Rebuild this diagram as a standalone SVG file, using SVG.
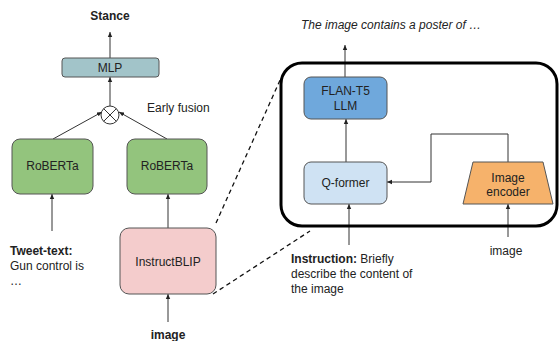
<svg xmlns="http://www.w3.org/2000/svg" width="559" height="341" viewBox="0 0 559 341">
<defs>
<marker id="ah" markerWidth="6" markerHeight="6" refX="5" refY="3" orient="auto" markerUnits="userSpaceOnUse">
<path d="M0,0.8 L5,3 L0,5.2 z" fill="#222"/>
</marker>
<style>
text{font-family:"Liberation Sans",Arial,sans-serif;font-size:12px;fill:#222}
.b{font-weight:bold}
.c{text-anchor:middle}
.box{stroke:#555;stroke-width:1}
.ln{fill:none;stroke:#333;stroke-width:1}
.ar{fill:none;stroke:#333;stroke-width:1;marker-end:url(#ah)}
.dash{fill:none;stroke:#111;stroke-width:1.3;stroke-dasharray:4.5,3.5}
</style>
</defs>
<rect width="559" height="341" fill="#fff"/>

<g id="connectors">
<line class="ar" x1="110" y1="58" x2="110" y2="32"/>
<line class="ar" x1="110" y1="106" x2="110" y2="77"/>
<line class="ar" x1="53" y1="139" x2="102" y2="112"/>
<line class="ar" x1="167" y1="139" x2="119" y2="112"/>
<line class="ar" x1="52" y1="231" x2="52" y2="194"/>
<line class="ar" x1="168" y1="228" x2="168" y2="194"/>
<line class="ar" x1="168" y1="322" x2="168" y2="294"/>
<line class="dash" x1="216" y1="223" x2="281" y2="78"/>
<line class="dash" x1="213" y1="294" x2="310" y2="231"/>
<line class="ar" x1="345" y1="77" x2="345" y2="45"/>
<line class="ar" x1="346" y1="162" x2="346" y2="119"/>
<line class="ar" x1="349" y1="245" x2="349" y2="204"/>
<path class="ar" d="M508,162 V134 H431 V182 H387"/>
<line class="ar" x1="508" y1="237" x2="508" y2="204"/>
</g>

<g id="stance"><text class="b c" x="110" y="20">Stance</text></g>
<g id="mlp">
<rect class="box" x="62" y="58" width="97" height="19" rx="3" fill="#a2c4c9"/>
<text class="c" x="110" y="72">MLP</text>
</g>
<g id="fusion">
<circle cx="110" cy="115" r="9" fill="#fff" stroke="#333" stroke-width="1"/>
<path d="M103.6,108.6 L116.4,121.4 M116.4,108.6 L103.6,121.4" stroke="#333" stroke-width="1"/>
<text x="147" y="112">Early fusion</text>
</g>
<g id="roberta1">
<rect class="box" x="12" y="139" width="81" height="55" rx="8" fill="#93c47d"/>
<text class="c" x="52.5" y="170">RoBERTa</text>
</g>
<g id="roberta2">
<rect class="box" x="127" y="139" width="80" height="55" rx="8" fill="#93c47d"/>
<text class="c" x="167" y="170">RoBERTa</text>
</g>
<g id="tweet">
<text x="10" y="255"><tspan class="b">Tweet-text:</tspan></text>
<text x="10" y="270">Gun control is</text>
<text x="10" y="285">…</text>
</g>
<g id="instructblip">
<rect class="box" x="120" y="228" width="96" height="66" rx="9" fill="#f4cccc"/>
<text class="c" x="168" y="266">InstructBLIP</text>
</g>
<g id="image-left"><text class="b c" x="168" y="339">image</text></g>

<g id="blip-detail">
<rect x="281" y="63" width="276" height="163" rx="21" fill="none" stroke="#000" stroke-width="3"/>
</g>
<g id="output-text"><text x="301" y="29" font-style="italic">The image contains a poster of …</text></g>
<g id="flan">
<rect class="box" x="304" y="77" width="83" height="42" rx="7" fill="#6fa8dc"/>
<text class="c" x="345.5" y="95">FLAN-T5</text>
<text class="c" x="345.5" y="110">LLM</text>
</g>
<g id="qformer">
<rect class="box" x="304" y="162" width="83" height="42" rx="7" fill="#cfe2f3"/>
<text class="c" x="345.5" y="187">Q-former</text>
</g>
<g id="encoder">
<polygon class="box" points="473,162 543,162 553,204 463,204" fill="#f6b26b"/>
<text class="c" x="508" y="182">Image</text>
<text class="c" x="508" y="196">encoder</text>
</g>
<g id="image-right"><text class="c" x="506" y="255">image</text></g>
<g id="instruction">
<text x="291" y="263"><tspan class="b">Instruction:</tspan> Briefly</text>
<text x="291" y="278">describe the content of</text>
<text x="291" y="293">the image</text>
</g>
</svg>
